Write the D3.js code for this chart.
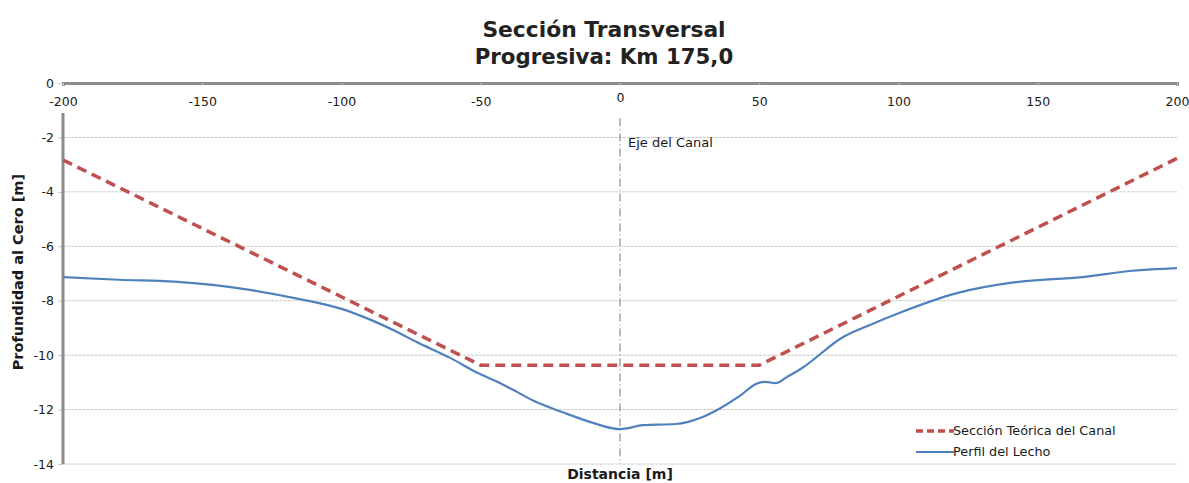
<!DOCTYPE html>
<html>
<head>
<meta charset="utf-8">
<script src="https://cdn.jsdelivr.net/npm/d3@7"></script>
<style>
  body { margin: 0; background: #fff; }
  svg { display: block; font-family: "DejaVu Sans", sans-serif; }
</style>
</head>
<body>
<div id="chart"></div>
<script>
// data
const xTicks = [-200, -150, -100, -50, 0, 50, 100, 150, 200];
const yTicks = [0, -2, -4, -6, -8, -10, -12, -14];

const seccionX = [-200, -50, 50, 200];
const seccionY = [-2.83, -10.37, -10.37, -2.77];

const lechoX = [-200, -180, -160, -133, -115, -100, -91, -80, -73, -61, -51, -43, -37, -31, -20, -10, -3, 0, 3, 8, 20, 29, 36, 43, 49, 52, 56, 60, 65, 80, 90, 100, 121, 142, 166, 184, 200];
const lechoY = [-7.13, -7.23, -7.3, -7.6, -7.94, -8.3, -8.64, -9.15, -9.52, -10.1, -10.66, -11.03, -11.35, -11.68, -12.12, -12.48, -12.68, -12.72, -12.68, -12.57, -12.53, -12.3, -11.95, -11.5, -11.05, -10.98, -11.03, -10.8, -10.5, -9.34, -8.88, -8.46, -7.72, -7.32, -7.13, -6.9, -6.8];

const width = 1189;
const height = 483;
const margin = { top: 83, right: 12, bottom: 19, left: 63 };

const svg = d3.select("#chart")
    .append("svg")
    .attr("width", width)
    .attr("height", height);

const x = d3.scaleLinear().domain([-200, 200]).range([margin.left, width - margin.right]);
const y = d3.scaleLinear().domain([0, -14]).range([margin.top, height - margin.bottom]);

// title
svg.append("text")
    .attr("x", 604).attr("y", 37)
    .attr("text-anchor", "middle")
    .style("font-size", "21.8px").style("font-weight", "bold").style("fill", "#222")
    .text("Sección Transversal");
svg.append("text")
    .attr("x", 604).attr("y", 64)
    .attr("text-anchor", "middle")
    .style("font-size", "21.3px").style("font-weight", "bold").style("fill", "#222")
    .text("Progresiva: Km 175,0");

// horizontal gridlines (dotted)
svg.append("g")
    .selectAll("line")
    .data(yTicks.filter(d => d !== 0))
    .join("line")
    .attr("x1", x(-200)).attr("x2", x(200))
    .attr("y1", d => y(d)).attr("y2", d => y(d))
    .attr("stroke", "#c8c8c8")
    .attr("stroke-width", 1)
    .attr("stroke-dasharray", "3,1");

// canal axis line (dash-dot)
svg.append("line")
    .attr("x1", x(0)).attr("x2", x(0))
    .attr("y1", y(-1.3)).attr("y2", y(-14))
    .attr("stroke", "#777")
    .attr("stroke-width", 1)
    .attr("stroke-dasharray", "8,3,1,3");

svg.append("text")
    .attr("x", x(0) + 8).attr("y", y(-2.35))
    .style("font-size", "13px").style("fill", "#1a1a1a")
    .text("Eje del Canal");

// x axis on top
const xAxis = svg.append("g")
    .attr("transform", `translate(0,${margin.top})`)
    .call(d3.axisBottom(x).tickValues(xTicks).tickSize(3).tickFormat(d3.format("d")));
xAxis.select(".domain").attr("stroke", "#8c8c8c").attr("stroke-width", 3);
xAxis.selectAll(".tick line").attr("stroke", "#c8c8c8");
xAxis.selectAll(".tick text")
    .attr("y", d => d === 0 ? 10 : 14)
    .style("font-size", "12.5px").style("fill", "#1a1a1a")
    .style("font-family", "'DejaVu Sans', sans-serif")
    .text(d => String(d).replace("−", "-"));

// y axis
const yAxis = svg.append("g")
    .attr("transform", `translate(${margin.left},0)`)
    .call(d3.axisLeft(y).tickValues(yTicks).tickSize(5).tickFormat(d3.format("d")));
yAxis.select(".domain").remove();
yAxis.selectAll(".tick line").attr("stroke", "#c8c8c8");
yAxis.selectAll(".tick text")
    .attr("x", -9)
    .style("font-size", "12.5px").style("fill", "#1a1a1a")
    .style("font-family", "'DejaVu Sans', sans-serif")
    .text(d => String(d).replace("−", "-"));
svg.append("line")
    .attr("x1", margin.left).attr("x2", margin.left)
    .attr("y1", y(-1.1)).attr("y2", y(-14))
    .attr("stroke", "#8c8c8c")
    .attr("stroke-width", 3);

// axis titles
svg.append("text")
    .attr("transform", `translate(23,${y(-6.95)}) rotate(-90)`)
    .attr("text-anchor", "middle")
    .style("font-size", "14.5px").style("font-weight", "bold").style("fill", "#1a1a1a")
    .text("Profundidad al Cero [m]");
svg.append("text")
    .attr("x", x(0)).attr("y", 479)
    .attr("text-anchor", "middle")
    .style("font-size", "14px").style("font-weight", "bold").style("fill", "#1a1a1a")
    .text("Distancia [m]");

// series
const lineGen = d3.line().x(d => x(d[0])).y(d => y(d[1]));
const lechoLine = d3.line().x(d => x(d[0])).y(d => y(d[1])).curve(d3.curveMonotoneX);

svg.append("path")
    .datum(d3.zip(lechoX, lechoY))
    .attr("d", lechoLine)
    .attr("fill", "none")
    .attr("stroke", "#4f81bd")
    .attr("stroke-width", 2.2);

svg.append("path")
    .datum(d3.zip(seccionX, seccionY))
    .attr("d", lineGen)
    .attr("fill", "none")
    .attr("stroke", "#c0504d")
    .attr("stroke-width", 3.5)
    .attr("stroke-dasharray", "10,6");

// legend
const legend = svg.append("g").attr("transform", "translate(916,431)");
legend.append("line")
    .attr("x1", 0).attr("x2", 38).attr("y1", 0).attr("y2", 0)
    .attr("stroke", "#c0504d").attr("stroke-width", 3.5).attr("stroke-dasharray", "7,4");
legend.append("text")
    .attr("x", 37).attr("y", 4)
    .style("font-size", "12.8px").style("fill", "#1a1a1a")
    .text("Sección Teórica del Canal");
legend.append("line")
    .attr("x1", 0).attr("x2", 38).attr("y1", 21).attr("y2", 21)
    .attr("stroke", "#4f81bd").attr("stroke-width", 2);
legend.append("text")
    .attr("x", 37).attr("y", 25)
    .style("font-size", "12.8px").style("fill", "#1a1a1a")
    .text("Perfil del Lecho");
</script>
</body>
</html>
